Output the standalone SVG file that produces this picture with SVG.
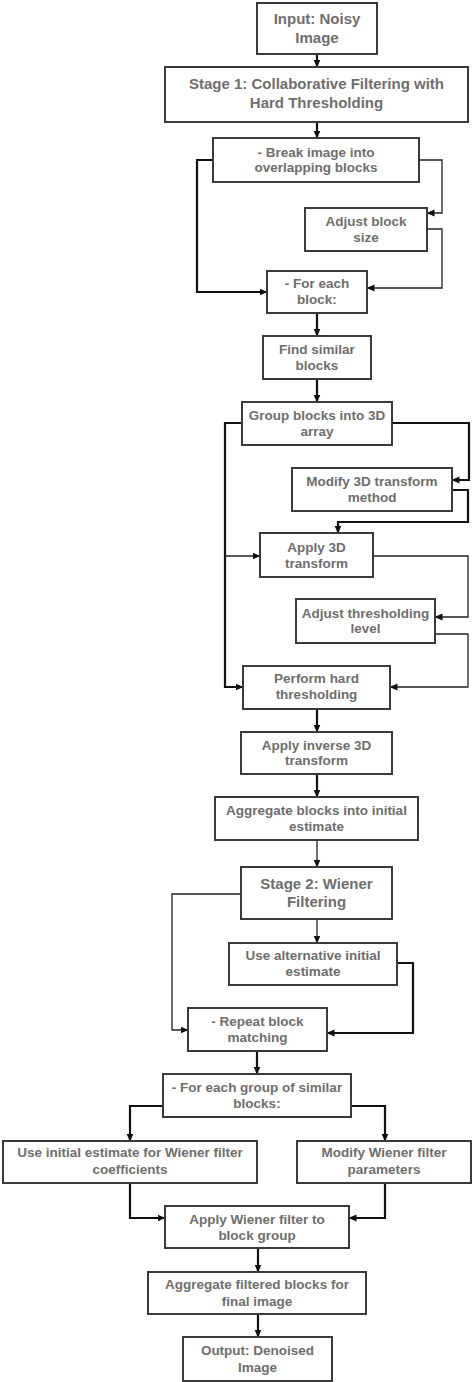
<svg xmlns="http://www.w3.org/2000/svg" width="474" height="1382" viewBox="0 0 474 1382">
<defs>
<marker id="ah" viewBox="0 0 8 8" refX="7.5" refY="4" markerWidth="8" markerHeight="8" markerUnits="userSpaceOnUse" orient="auto">
<path d="M0,0.5 L8,4 L0,7.5 Z" fill="#111"/>
</marker>
<style>
.box{fill:#fff;stroke:#3a3a3a;stroke-width:2}
.t{font-family:"Liberation Sans",Arial,sans-serif;font-weight:bold;font-size:13.5px;fill:#6e6e6e;text-anchor:middle}
.h{font-size:15px}
.c{fill:none;stroke:#111;stroke-width:2.2;marker-end:url(#ah)}
.n{fill:none;stroke:#222;stroke-width:1.3;marker-end:url(#ah)}
</style>
</defs>
<rect width="474" height="1382" fill="#fff"/>
<g id="connectors">
<path class="c" d="M317,54 V67"/>
<path class="c" d="M317,122 V138"/>
<path class="c" d="M213,160 H197 V292 H267"/>
<path class="n" d="M419,160 H442 V213 H427"/>
<path class="n" d="M427,229 H442 V288 H367"/>
<path class="c" d="M317,313 V336"/>
<path class="c" d="M317,379 V402"/>
<path class="c" d="M392,423 H469 V480 H452"/>
<path class="c" d="M452,490 H468 V522 H338 V533"/>
<path class="c" d="M242,423 H225 V687 H243"/>
<path class="n" d="M225,556 H260"/>
<path class="n" d="M373,556 H468 V617 H435"/>
<path class="n" d="M435,634 H468 V687 H390"/>
<path class="c" d="M317,709 V732"/>
<path class="c" d="M317,774 V797"/>
<path class="n" d="M317,840 V867"/>
<path class="n" d="M317,919 V943"/>
<path class="n" d="M241,894 H172 V1030 H188"/>
<path class="c" d="M397,963 H413 V1033 H327"/>
<path class="c" d="M257,1051 V1074"/>
<path class="c" d="M163,1106 H130 V1141"/>
<path class="c" d="M351,1106 H385 V1141"/>
<path class="c" d="M130,1183 V1218 H165"/>
<path class="c" d="M385,1183 V1218 H349"/>
<path class="c" d="M258,1248 V1272"/>
<path class="c" d="M258,1314 V1337"/>
</g>
<g id="input"><rect class="box" x="257" y="3" width="120" height="51"/><text class="t h" x="317" y="23.5">Input: Noisy</text><text class="t h" x="317" y="42.5">Image</text></g>
<g id="stage1"><rect class="box" x="165" y="67" width="303" height="55"/><text class="t h" x="316.5" y="88.5">Stage 1: Collaborative Filtering with</text><text class="t h" x="316.5" y="107.5">Hard Thresholding</text></g>
<g id="break"><rect class="box" x="213" y="138" width="206" height="44"/><text class="t" x="316" y="157">- Break image into</text><text class="t" x="316" y="172">overlapping blocks</text></g>
<g id="adjustblock"><rect class="box" x="305" y="208" width="122" height="43"/><text class="t" x="366" y="226">Adjust block</text><text class="t" x="366" y="242">size</text></g>
<g id="foreach"><rect class="box" x="267" y="271" width="100" height="42"/><text class="t" x="317" y="288">- For each</text><text class="t" x="317" y="304">block:</text></g>
<g id="findsimilar"><rect class="box" x="263" y="336" width="108" height="43"/><text class="t" x="317" y="354">Find similar</text><text class="t" x="317" y="370">blocks</text></g>
<g id="group3d"><rect class="box" x="242" y="402" width="150" height="43"/><text class="t" x="317" y="420">Group blocks into 3D</text><text class="t" x="317" y="436">array</text></g>
<g id="modify3d"><rect class="box" x="292" y="468" width="160" height="43"/><text class="t" x="372" y="486">Modify 3D transform</text><text class="t" x="372" y="502">method</text></g>
<g id="apply3d"><rect class="box" x="260" y="533" width="113" height="44"/><text class="t" x="316.5" y="552">Apply 3D</text><text class="t" x="316.5" y="568">transform</text></g>
<g id="adjustthr"><rect class="box" x="296" y="599" width="139" height="44"/><text class="t" x="365.5" y="618">Adjust thresholding</text><text class="t" x="365.5" y="633">level</text></g>
<g id="perform"><rect class="box" x="243" y="666" width="147" height="43"/><text class="t" x="316.5" y="683">Perform hard</text><text class="t" x="316.5" y="699">thresholding</text></g>
<g id="inverse"><rect class="box" x="241" y="732" width="151" height="42"/><text class="t" x="316.5" y="750">Apply inverse 3D</text><text class="t" x="316.5" y="765">transform</text></g>
<g id="aggregate1"><rect class="box" x="215" y="797" width="203" height="43"/><text class="t" x="316.5" y="815">Aggregate blocks into initial</text><text class="t" x="316.5" y="831">estimate</text></g>
<g id="stage2"><rect class="box" x="241" y="867" width="151" height="52"/><text class="t h" x="316.5" y="888.5">Stage 2: Wiener</text><text class="t h" x="316.5" y="906.5">Filtering</text></g>
<g id="usealt"><rect class="box" x="229" y="943" width="168" height="42"/><text class="t" x="313" y="960">Use alternative initial</text><text class="t" x="313" y="976">estimate</text></g>
<g id="repeat"><rect class="box" x="188" y="1008" width="139" height="43"/><text class="t" x="257.5" y="1026">- Repeat block</text><text class="t" x="257.5" y="1042">matching</text></g>
<g id="foreachgroup"><rect class="box" x="163" y="1074" width="188" height="43"/><text class="t" x="257" y="1092">- For each group of similar</text><text class="t" x="257" y="1108">blocks:</text></g>
<g id="useinitial"><rect class="box" x="3" y="1141" width="254" height="42"/><text class="t" x="130" y="1157">Use initial estimate for Wiener filter</text><text class="t" x="130" y="1174">coefficients</text></g>
<g id="modifywiener"><rect class="box" x="297" y="1141" width="174" height="42"/><text class="t" x="384" y="1157">Modify Wiener filter</text><text class="t" x="384" y="1174">parameters</text></g>
<g id="applywiener"><rect class="box" x="165" y="1206" width="184" height="42"/><text class="t" x="257" y="1224">Apply Wiener filter to</text><text class="t" x="257" y="1240">block group</text></g>
<g id="aggregate2"><rect class="box" x="148" y="1272" width="218" height="42"/><text class="t" x="257" y="1289">Aggregate filtered blocks for</text><text class="t" x="257" y="1306">final image</text></g>
<g id="output"><rect class="box" x="183" y="1337" width="149" height="44"/><text class="t" x="257.5" y="1355">Output: Denoised</text><text class="t" x="257.5" y="1372">Image</text></g>
</svg>
